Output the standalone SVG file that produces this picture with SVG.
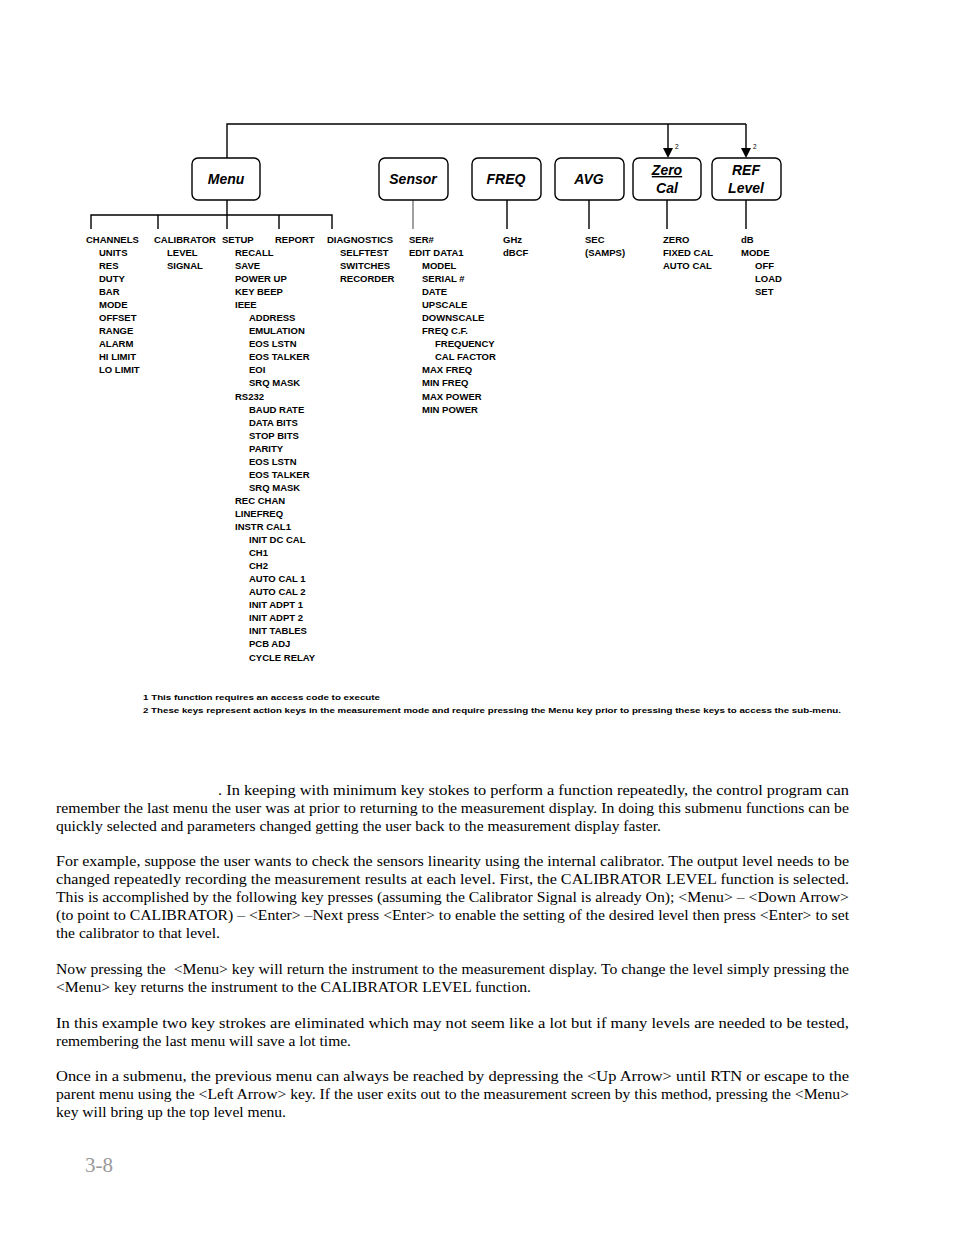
<svg xmlns="http://www.w3.org/2000/svg" width="954" height="1235" viewBox="0 0 954 1235">
<style>
.bg{fill:#fff}
.box{fill:#fff;stroke:#000;stroke-width:1.4}
.ln{stroke:#000;stroke-width:1.4;fill:none}
.gl{stroke:#777;stroke-width:1.4;fill:none}
.bl{font-family:"Liberation Sans",Arial,sans-serif;font-size:14px;font-weight:bold;font-style:italic;text-anchor:middle;fill:#000}
.it{font-family:"Liberation Sans",Arial,sans-serif;font-size:9.5px;font-weight:bold;fill:#000}
.sm{font-family:"Liberation Sans",Arial,sans-serif;font-size:6.5px;fill:#000}
.fn{font-family:"Liberation Sans",Arial,sans-serif;font-size:8px;font-weight:bold;fill:#000}
.p{font-family:"Liberation Serif","Times New Roman",serif;font-size:15.5px;fill:#000;white-space:pre}
.pg{font-family:"Liberation Serif","Times New Roman",serif;font-size:21px;fill:#999}
</style>
<rect class="bg" x="0" y="0" width="954" height="1235"/>
<g id="connectors">
<path class="ln" d="M227,158 V124 H746 M668,124 V149 M746,124 V149"/>
<polygon points="663,148 673,148 668,158" fill="#000"/>
<polygon points="741,148 751,148 746,158" fill="#000"/>
<path class="ln" d="M227,200 V215 M91,229 V215 H332 V229 M158,215 V229 M227,215 V229 M279,215 V229"/>
<path class="gl" d="M413,200 V229"/>
<path class="ln" d="M507,200 V229 M589,200 V229 M667,200 V229 M746,200 V229"/>
<text class="sm" x="675" y="149">2</text>
<text class="sm" x="753" y="149">2</text>
</g>
<g id="menu">
<rect class="box" x="192" y="158" width="68" height="42" rx="6"/>
<text class="bl" x="226" y="184">Menu</text>
</g>
<g id="sensor">
<rect class="box" x="379" y="158" width="69" height="42" rx="6"/>
<text class="bl" x="413" y="184">Sensor</text>
</g>
<g id="freq">
<rect class="box" x="472" y="158" width="69" height="42" rx="6"/>
<text class="bl" x="506" y="184">FREQ</text>
</g>
<g id="avg">
<rect class="box" x="555" y="158" width="69" height="42" rx="6"/>
<text class="bl" x="589" y="184">AVG</text>
</g>
<g id="zerocal">
<rect class="box" x="633" y="158" width="68" height="42" rx="6"/>
<text class="bl" x="667" y="175" text-decoration="underline">Zero</text>
<text class="bl" x="667" y="193">Cal</text>
</g>
<g id="reflevel">
<rect class="box" x="712" y="158" width="69" height="42" rx="6"/>
<text class="bl" x="746" y="175">REF</text>
<text class="bl" x="746" y="193">Level</text>
</g>
<g id="channels-list">
<text class="it" x="86" y="243">CHANNELS</text>
<text class="it" x="99" y="256">UNITS</text>
<text class="it" x="99" y="269">RES</text>
<text class="it" x="99" y="282">DUTY</text>
<text class="it" x="99" y="295">BAR</text>
<text class="it" x="99" y="308">MODE</text>
<text class="it" x="99" y="321">OFFSET</text>
<text class="it" x="99" y="334">RANGE</text>
<text class="it" x="99" y="347">ALARM</text>
<text class="it" x="99" y="360">HI LIMIT</text>
<text class="it" x="99" y="373">LO LIMIT</text>
</g>
<g id="calibrator-list">
<text class="it" x="154" y="243">CALIBRATOR</text>
<text class="it" x="167" y="256">LEVEL</text>
<text class="it" x="167" y="269">SIGNAL</text>
</g>
<g id="setup-list">
<text class="it" x="222" y="243">SETUP</text>
<text class="it" x="235" y="256">RECALL</text>
<text class="it" x="235" y="269">SAVE</text>
<text class="it" x="235" y="282">POWER UP</text>
<text class="it" x="235" y="295">KEY BEEP</text>
<text class="it" x="235" y="308">IEEE</text>
<text class="it" x="249" y="321">ADDRESS</text>
<text class="it" x="249" y="334">EMULATION</text>
<text class="it" x="249" y="347">EOS LSTN</text>
<text class="it" x="249" y="360">EOS TALKER</text>
<text class="it" x="249" y="373">EOI</text>
<text class="it" x="249" y="386">SRQ MASK</text>
<text class="it" x="235" y="400">RS232</text>
<text class="it" x="249" y="413">BAUD RATE</text>
<text class="it" x="249" y="426">DATA BITS</text>
<text class="it" x="249" y="439">STOP BITS</text>
<text class="it" x="249" y="452">PARITY</text>
<text class="it" x="249" y="465">EOS LSTN</text>
<text class="it" x="249" y="478">EOS TALKER</text>
<text class="it" x="249" y="491">SRQ MASK</text>
<text class="it" x="235" y="504">REC CHAN</text>
<text class="it" x="235" y="517">LINEFREQ</text>
<text class="it" x="235" y="530">INSTR CAL1</text>
<text class="it" x="249" y="543">INIT DC CAL</text>
<text class="it" x="249" y="556">CH1</text>
<text class="it" x="249" y="569">CH2</text>
<text class="it" x="249" y="582">AUTO CAL 1</text>
<text class="it" x="249" y="595">AUTO CAL 2</text>
<text class="it" x="249" y="608">INIT ADPT 1</text>
<text class="it" x="249" y="621">INIT ADPT 2</text>
<text class="it" x="249" y="634">INIT TABLES</text>
<text class="it" x="249" y="647">PCB ADJ</text>
<text class="it" x="249" y="661">CYCLE RELAY</text>
</g>
<g id="report-list">
<text class="it" x="275" y="243">REPORT</text>
</g>
<g id="diagnostics-list">
<text class="it" x="327" y="243">DIAGNOSTICS</text>
<text class="it" x="340" y="256">SELFTEST</text>
<text class="it" x="340" y="269">SWITCHES</text>
<text class="it" x="340" y="282">RECORDER</text>
</g>
<g id="sensor-list">
<text class="it" x="409" y="243">SER#</text>
<text class="it" x="409" y="256">EDIT DATA1</text>
<text class="it" x="422" y="269">MODEL</text>
<text class="it" x="422" y="282">SERIAL #</text>
<text class="it" x="422" y="295">DATE</text>
<text class="it" x="422" y="308">UPSCALE</text>
<text class="it" x="422" y="321">DOWNSCALE</text>
<text class="it" x="422" y="334">FREQ C.F.</text>
<text class="it" x="435" y="347">FREQUENCY</text>
<text class="it" x="435" y="360">CAL FACTOR</text>
<text class="it" x="422" y="373">MAX FREQ</text>
<text class="it" x="422" y="386">MIN FREQ</text>
<text class="it" x="422" y="400">MAX POWER</text>
<text class="it" x="422" y="413">MIN POWER</text>
</g>
<g id="freq-list">
<text class="it" x="503" y="243">GHz</text>
<text class="it" x="503" y="256">dBCF</text>
</g>
<g id="avg-list">
<text class="it" x="585" y="243">SEC</text>
<text class="it" x="585" y="256">(SAMPS)</text>
</g>
<g id="zero-list">
<text class="it" x="663" y="243">ZERO</text>
<text class="it" x="663" y="256">FIXED CAL</text>
<text class="it" x="663" y="269">AUTO CAL</text>
</g>
<g id="ref-list">
<text class="it" x="741" y="243">dB</text>
<text class="it" x="741" y="256">MODE</text>
<text class="it" x="755" y="269">OFF</text>
<text class="it" x="755" y="282">LOAD</text>
<text class="it" x="755" y="295">SET</text>
</g>
<g id="footnotes">
<text class="fn" x="143" y="700" textLength="237" lengthAdjust="spacingAndGlyphs">1 This function requires an access code to execute</text>
<text class="fn" x="143" y="713" textLength="698" lengthAdjust="spacingAndGlyphs">2 These keys represent action keys in the measurement mode and require pressing the Menu key prior to pressing these keys to access the sub-menu.</text>
</g>
<g id="body-text">
<text class="p" x="218" y="795" textLength="631" lengthAdjust="spacingAndGlyphs">. In keeping with minimum key stokes to perform a function repeatedly, the control program can</text>
<text class="p" x="56" y="813" textLength="793" lengthAdjust="spacingAndGlyphs">remember the last menu the user was at prior to returning to the measurement display. In doing this submenu functions can be</text>
<text class="p" x="56" y="831" textLength="605" lengthAdjust="spacingAndGlyphs">quickly selected and parameters changed getting the user back to the measurement display faster.</text>
<text class="p" x="56" y="866" textLength="793" lengthAdjust="spacingAndGlyphs">For example, suppose the user wants to check the sensors linearity using the internal calibrator. The output level needs to be</text>
<text class="p" x="56" y="884" textLength="793" lengthAdjust="spacingAndGlyphs">changed repeatedly recording the measurement results at each level. First, the CALIBRATOR LEVEL function is selected.</text>
<text class="p" x="56" y="902" textLength="793" lengthAdjust="spacingAndGlyphs">This is accomplished by the following key presses (assuming the Calibrator Signal is already On); &lt;Menu&gt; – &lt;Down Arrow&gt;</text>
<text class="p" x="56" y="920" textLength="793" lengthAdjust="spacingAndGlyphs">(to point to CALIBRATOR) – &lt;Enter&gt; –Next press &lt;Enter&gt; to enable the setting of the desired level then press &lt;Enter&gt; to set</text>
<text class="p" x="56" y="938" textLength="164" lengthAdjust="spacingAndGlyphs">the calibrator to that level.</text>
<text class="p" x="56" y="974" textLength="793" lengthAdjust="spacingAndGlyphs">Now pressing the  &lt;Menu&gt; key will return the instrument to the measurement display. To change the level simply pressing the</text>
<text class="p" x="56" y="992" textLength="475" lengthAdjust="spacingAndGlyphs">&lt;Menu&gt; key returns the instrument to the CALIBRATOR LEVEL function.</text>
<text class="p" x="56" y="1028" textLength="793" lengthAdjust="spacingAndGlyphs">In this example two key strokes are eliminated which may not seem like a lot but if many levels are needed to be tested,</text>
<text class="p" x="56" y="1046" textLength="295" lengthAdjust="spacingAndGlyphs">remembering the last menu will save a lot time.</text>
<text class="p" x="56" y="1081" textLength="793" lengthAdjust="spacingAndGlyphs">Once in a submenu, the previous menu can always be reached by depressing the &lt;Up Arrow&gt; until RTN or escape to the</text>
<text class="p" x="56" y="1099" textLength="793" lengthAdjust="spacingAndGlyphs">parent menu using the &lt;Left Arrow&gt; key. If the user exits out to the measurement screen by this method, pressing the &lt;Menu&gt;</text>
<text class="p" x="56" y="1117" textLength="230" lengthAdjust="spacingAndGlyphs">key will bring up the top level menu.</text>
</g>
<text class="pg" x="85" y="1172">3-8</text>
</svg>
